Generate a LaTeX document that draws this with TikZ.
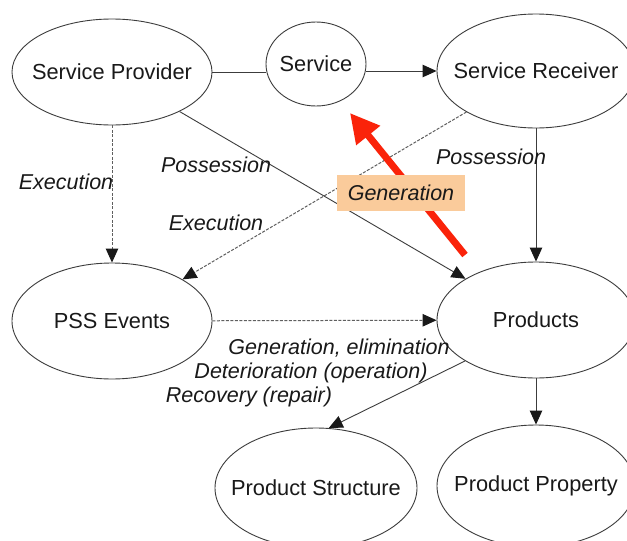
\documentclass[tikz,border=0pt]{standalone}
\usepackage{fontspec}
\setmainfont{Liberation Sans}
\usetikzlibrary{shapes.geometric,arrows.meta}
\definecolor{linegray}{RGB}{60,60,60}
\definecolor{dashgray}{RGB}{95,95,95}
\definecolor{genred}{RGB}{250,35,10}
\definecolor{genbox}{RGB}{250,203,155}
\definecolor{txt}{RGB}{25,25,25}
\newcommand\ztxt[1]{\makebox[0pt]{#1}}
\begin{document}
\begin{tikzpicture}[x=1pt,y=-1pt,
  ent/.style={ellipse,draw=linegray,fill=white,line width=0.9pt,inner sep=0pt,text=txt,font=\fontsize{21.8}{24}\selectfont},
  lbl/.style={text=txt,font=\fontsize{21.5}{24}\selectfont\itshape,inner sep=0pt},
  conn/.style={draw=linegray,line width=0.9pt},
  dconn/.style={draw=dashgray,line width=1pt,dash pattern=on 3pt off 1.5pt},
  tip/.style={-{Triangle[length=14pt,width=12.5pt,color=black!90]}},
  bigtip/.style={-{Triangle[length=29pt,width=29pt]}},
]
\useasboundingbox (0,0) rectangle (627,541);
\fill[white] (0,0) rectangle (627,541);

% entities
\node[ent,minimum width=200pt,minimum height=106pt] (sp)   at (112,72)  {\ztxt{Service Provider}};
\node[ent,minimum width=100pt,minimum height=84pt]  (svc)  at (316,64)  {\ztxt{Service}};
\node[ent,minimum width=198pt,minimum height=114pt] (sr)   at (536,71)  {\ztxt{Service Receiver}};
\node[ent,minimum width=200pt,minimum height=116pt] (pss)  at (112,321) {\ztxt{PSS Events}};
\node[ent,minimum width=198pt,minimum height=116pt] (prod) at (536,320) {\ztxt{Products}};
\node[ent,minimum width=202pt,minimum height=120pt] (ps)   at (316,488) {\ztxt{Product Structure}};
\node[ent,minimum width=198pt,minimum height=122pt] (pp)   at (536,486) {\ztxt{Product Property}};

% connectors
\draw[conn] (sp) -- (sp -| svc.west);
\draw[conn,tip] (svc.east |- sr) -- (sr);
\draw[dconn,tip] (sp) -- (pss);
\draw[dconn,tip] (sr) -- (pss);
\draw[conn,tip] (sp) -- (prod);
\draw[conn,tip] (sr) -- (prod);
\draw[dconn,tip] (pss) -- (prod);
\draw[conn,tip] (prod.210) -- (ps.78);
\draw[conn,tip] (prod) -- (prod |- pp.north);

% labels
\node[lbl] (lexec1) at (66,182)  {Execution};
\node[lbl] (lposs1) at (216,165) {Possession};
\node[lbl] (lexec2) at (216,223) {Execution};
\node[lbl] (lposs2) at (491,157) {Possession};
\node[lbl] (lgen1)  at (339,348) {Generation, elimination};
\node[lbl] (lgen2)  at (311,373) {Deterioration (operation)};
\node[lbl] (lgen3)  at (249,397) {Recovery (repair)};

% red generation arrow
\coordinate (gtail) at (465,255);
\coordinate (ghead) at (350,113);
\draw[genred,line width=7pt,bigtip] (gtail) -- (ghead);
\node[lbl,fill=genbox,minimum width=128pt,minimum height=36pt] (gen) at (401,193) {Generation};
\end{tikzpicture}
\end{document}
